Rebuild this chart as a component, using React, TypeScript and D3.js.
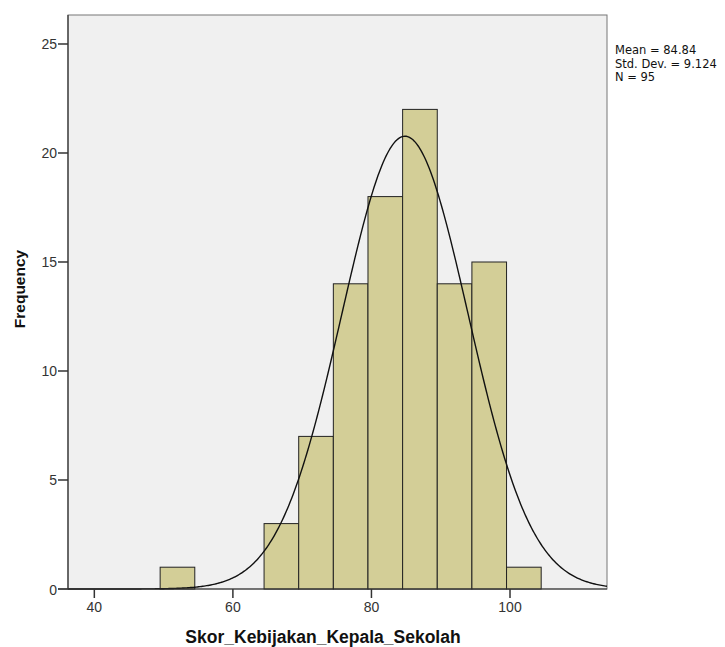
import React from "react";
import * as d3 from "d3";

const binStarts = [49.5, 54.5, 59.5, 64.5, 69.5, 74.5, 79.5, 84.5, 89.5, 94.5, 99.5];
const binCounts = [1, 0, 0, 3, 7, 14, 18, 22, 14, 15, 1];
const binWidth = 5;
const xTicks = [40, 60, 80, 100];
const yTicks = [0, 5, 10, 15, 20, 25];
const mean = 84.84;
const sd = 9.124;
const n = 95;
const statsLines = ["Mean = 84.84", "Std. Dev. = 9.124", "N = 95"];
const xTitle = "Skor_Kebijakan_Kepala_Sekolah";
const yTitle = "Frequency";

export default function App() {
  const W = 725, H = 647;
  const left = 68, right = 607, top = 15, bottom = 589;
  const x = d3.scaleLinear().domain([36.2, 114.0]).range([left, right]);
  const y = d3.scaleLinear().domain([0, 26.33]).range([bottom, top]);
  const pdf = (v: number) =>
    (n * binWidth) / (sd * Math.sqrt(2 * Math.PI)) * Math.exp(-0.5 * ((v - mean) / sd) ** 2);
  const pts = d3.range(0, 401).map((i) => 36.2 + (114.0 - 36.2) * (i / 400));
  const line = d3.line<number>().x((v) => x(v)).y((v) => y(pdf(v))).curve(d3.curveLinear);
  const font = "'Liberation Sans', Arial, sans-serif";
  return (
    <svg width={W} height={H} style={{ position: "absolute", left: 0, top: 0 }} fontFamily={font}>
      <rect x={0} y={0} width={W} height={H} fill="#fff" />
      <rect x={left} y={top} width={right - left} height={bottom - top} fill="#F0F0F0" stroke="#777" strokeWidth={1} />
      {binStarts.map((s, i) =>
        binCounts[i] > 0 ? (
          <rect
            key={i}
            x={x(s)}
            y={y(binCounts[i])}
            width={x(s + binWidth) - x(s)}
            height={y(0) - y(binCounts[i])}
            fill="#D3CE97"
            stroke="#222"
            strokeWidth={1}
          />
        ) : null
      )}
      <path d={line(pts) || ""} fill="none" stroke="#111" strokeWidth={1.4} />
      <line x1={left} x2={left} y1={top} y2={bottom} stroke="#333" strokeWidth={1.2} />
      <line x1={left - 10} x2={right} y1={bottom} y2={bottom} stroke="#333" strokeWidth={1.2} />
      {yTicks.map((t) => (
        <g key={t}>
          <line x1={left - 10} x2={left} y1={y(t)} y2={y(t)} stroke="#333" strokeWidth={1.5} />
          <text x={left - 11} y={y(t) + 5.5} fontSize={14} textAnchor="end" fill="#333">{t}</text>
        </g>
      ))}
      {xTicks.map((t) => (
        <g key={t}>
          <line x1={x(t)} x2={x(t)} y1={bottom} y2={bottom + 9} stroke="#333" strokeWidth={1.5} />
          <text x={x(t)} y={bottom + 23} fontSize={14} textAnchor="middle" fill="#333">{t}</text>
        </g>
      ))}
      <text x={323} y={643} fontSize={17.5} fontWeight="bold" textAnchor="middle" fill="#111">{xTitle}</text>
      <text transform={`translate(25,289) rotate(-90)`} fontSize={15.5} fontWeight="bold" textAnchor="middle" fill="#111">{yTitle}</text>
      {statsLines.map((s, i) => (
        <text key={i} x={615} y={54 + i * 13.5} fontSize={11.5} fill="#111" fontFamily="'DejaVu Sans', sans-serif">{s}</text>
      ))}
    </svg>
  );
}
